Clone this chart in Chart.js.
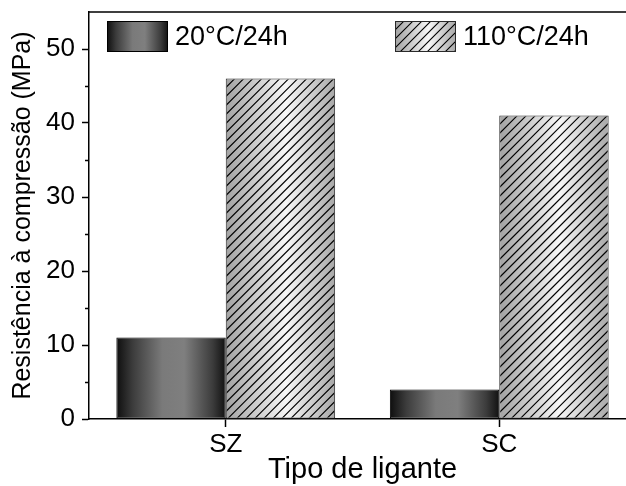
<!DOCTYPE html>
<html>
<head>
<meta charset="utf-8">
<script src="https://cdn.jsdelivr.net/npm/chart.js@4/dist/chart.umd.min.js"></script>
<style>
  html, body { margin: 0; padding: 0; background: #fff; overflow: hidden; }
  #wrap { width: 640px; height: 486px; }
</style>
</head>
<body>
<div id="wrap"><canvas id="chart" width="640" height="486"></canvas></div>
<script>
'use strict';

// dados
const categorias = ['SZ', 'SC'];
const rotulos = ['20°C/24h', '110°C/24h'];
const valores20 = [11, 4];
const valores110 = [46, 41];
const yTicks = [0, 10, 20, 30, 40, 50];
const yMinor = [5, 15, 25, 35, 45];

const FONTE = "'Liberation Sans', Arial, sans-serif";
Chart.defaults.font.family = FONTE;
Chart.defaults.color = '#000';

// degradês tipo "cilindro" (horizontal em cada barra)
const escuro = [[0, '#0e0e0e'], [0.15, '#3c3c3c'], [0.42, '#7a7a7a'], [0.62, '#7f7f7f'], [0.88, '#3c3c3c'], [1, '#111']];
const claro = [[0, '#a2a2a2'], [0.55, '#f7f7f7'], [1, '#a8a8a8']];

function cilindro(ctx, x0, x1, stops) {
    const g = ctx.createLinearGradient(x0, 0, x1, 0);
    for (const [o, c] of stops) g.addColorStop(o, c);
    return g;
}

// linhas diagonais "/"
function hachura(ctx, left, top, w, h) {
    ctx.save();
    ctx.beginPath();
    ctx.rect(left + 1, top + 1, w - 2, h - 2);
    ctx.clip();
    ctx.strokeStyle = '#000';
    ctx.lineWidth = 1.1;
    ctx.beginPath();
    for (let s = left - h; s < left + w; s += 9) {
        ctx.moveTo(s, top + h);
        ctx.lineTo(s + h, top);
    }
    ctx.stroke();
    ctx.restore();
}

const barras = {
    id: 'barras',
    beforeDatasetsDraw(chart) {
        const ctx = chart.ctx;
        chart.data.datasets.forEach((ds, i) => {
            chart.getDatasetMeta(i).data.forEach((bar) => {
                const { x, width } = bar.getProps(['x', 'width'], true);
                bar.options.backgroundColor = cilindro(ctx, x - width / 2, x + width / 2, i === 0 ? escuro : claro);
            });
        });
    },
    afterDatasetsDraw(chart) {
        const ctx = chart.ctx;
        chart.getDatasetMeta(1).data.forEach((bar) => {
            const { x, y, base, width } = bar.getProps(['x', 'y', 'base', 'width'], true);
            hachura(ctx, x - width / 2, y, width, base - y);
        });
    },
};

// moldura superior/direita, ticks menores e legenda
const extras = {
    id: 'extras',
    afterDraw(chart) {
        const ctx = chart.ctx;
        const a = chart.chartArea;
        const ys = chart.scales.y;
        ctx.save();
        ctx.strokeStyle = '#000';
        ctx.lineWidth = 1.5;
        ctx.beginPath();
        ctx.moveTo(a.left, a.top);
        ctx.lineTo(a.right, a.top);
        ctx.lineTo(a.right, a.bottom);
        ctx.stroke();
        ctx.beginPath();
        for (const v of yMinor) {
            const py = Math.round(ys.getPixelForValue(v)) + 0.5;
            ctx.moveTo(a.left - 4, py);
            ctx.lineTo(a.left, py);
        }
        ctx.stroke();

        // legenda
        const xs = [a.left + 18, a.left + 306];
        const top = a.top + 9, w = 61, h = 31;
        ctx.font = '27px ' + FONTE;
        ctx.textBaseline = 'middle';
        chart.data.datasets.forEach((ds, i) => {
            const x = xs[i];
            ctx.fillStyle = cilindro(ctx, x, x + w, i === 0 ? escuro : claro);
            ctx.fillRect(x, top, w, h);
            if (i === 1) hachura(ctx, x, top, w, h);
            ctx.lineWidth = 1;
            ctx.strokeStyle = i === 0 ? '#000' : '#2a2a2a';
            ctx.strokeRect(x + 0.5, top + 0.5, w - 1, h - 1);
            ctx.fillStyle = '#000';
            ctx.fillText(ds.label, x + w + 7, top + h / 2 + 1);
        });
        ctx.restore();
    },
};

new Chart(document.getElementById('chart'), {
    type: 'bar',
    data: {
        labels: categorias,
        datasets: [
            {
                label: rotulos[0],
                data: valores20,
                backgroundColor: () => '#555',
                borderColor: '#000',
                borderWidth: 1,
                borderSkipped: false,
                categoryPercentage: 0.8,
                barPercentage: 1.0,
            },
            {
                label: rotulos[1],
                data: valores110,
                backgroundColor: () => '#ddd',
                borderColor: '#2a2a2a',
                borderWidth: 1,
                borderSkipped: false,
                categoryPercentage: 0.8,
                barPercentage: 1.0,
            },
        ],
    },
    options: {
        responsive: false,
        animation: false,
        devicePixelRatio: 1,
        layout: { padding: { top: 12, right: 4, left: 0, bottom: 0 } },
        plugins: { legend: { display: false }, tooltip: { enabled: false } },
        scales: {
            x: {
                offset: true,
                grid: { offset: false, drawOnChartArea: false, tickLength: 8, tickColor: '#000', tickWidth: 1.5 },
                border: { color: '#000', width: 1.5 },
                ticks: { color: '#000', font: { size: 26 }, padding: 2, maxRotation: 0 },
                title: {
                    display: true,
                    text: 'Tipo de ligante',
                    color: '#000',
                    font: { size: 29, lineHeight: 1.1 },
                    padding: 0,
                },
                afterFit(s) {
                    s.height = 67;
                    s.paddingLeft = 0;
                    s.paddingRight = 0;
                },
            },
            y: {
                min: 0,
                max: 55,
                afterBuildTicks(s) {
                    s.ticks = yTicks.map((v) => ({ value: v }));
                },
                grid: { drawOnChartArea: false, tickLength: 7, tickColor: '#000', tickWidth: 1.5 },
                border: { color: '#000', width: 1.5 },
                ticks: { color: '#000', font: { size: 26 }, padding: 7 },
                title: {
                    display: true,
                    text: 'Resistência à compressão (MPa)',
                    color: '#000',
                    font: { size: 25 },
                    padding: { top: 8, bottom: 0 },
                },
                afterFit(s) {
                    s.width = 89;
                    s.paddingTop = 0;
                    s.paddingBottom = 0;
                },
            },
        },
    },
    plugins: [barras, extras],
});
</script>
</body>
</html>
